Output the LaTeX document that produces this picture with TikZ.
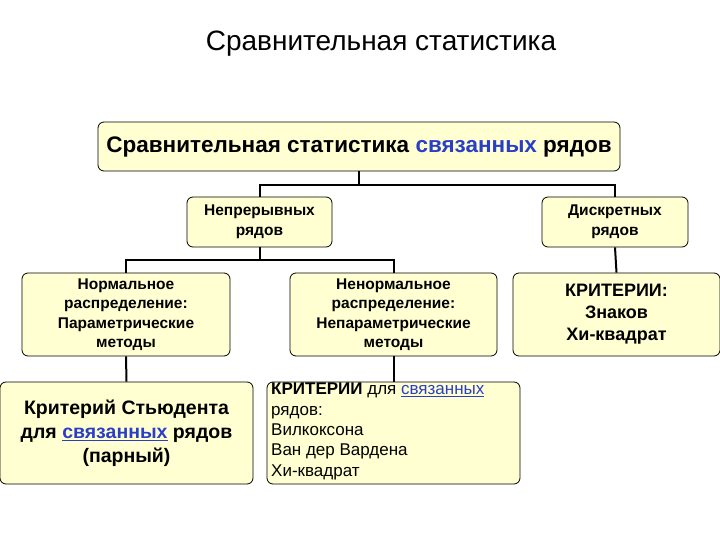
\documentclass[tikz,border=0pt]{standalone}
\usepackage{fontspec}
\setmainfont{Liberation Sans}
\definecolor{boxfill}{HTML}{FFFFD2}
\definecolor{lnk}{HTML}{2A3FC8}
\begin{document}
\begin{tikzpicture}[x=1pt,y=-1pt,
  bx/.style={draw=black,line width=0.8pt,fill=boxfill,rounded corners=6pt,align=center,inner sep=0pt},
  ln/.style={line width=2pt}]
\useasboundingbox (0,0) rectangle (720,540);
\node[font=\fontsize{28}{32}\selectfont] (title) at (381,44) {Сравнительная статистика};
\node[bx,minimum width=522pt,minimum height=49pt,font=\fontsize{22.5}{26}\bfseries\selectfont] (top) at (359,146.5) {Сравнительная статистика \textcolor{lnk}{связанных} рядов};
\node[bx,minimum width=145pt,minimum height=50pt,font=\fontsize{15.5}{20}\bfseries\selectfont] (cont) at (259.5,222) {Непрерывных\\рядов};
\node[bx,minimum width=146pt,minimum height=50pt,font=\fontsize{15.5}{20}\bfseries\selectfont] (disc) at (615,222) {Дискретных\\рядов};
\node[bx,minimum width=208pt,minimum height=83pt,font=\fontsize{15.5}{19.5}\bfseries\selectfont] (norm) at (126,314.5) {Нормальное\\распределение:\\Параметрические\\методы};
\node[bx,minimum width=207pt,minimum height=83pt,font=\fontsize{15.5}{19.5}\bfseries\selectfont] (nonn) at (393.5,314.5) {Ненормальное\\распределение:\\Непараметрические\\методы};
\node[bx,minimum width=207pt,minimum height=83pt,font=\fontsize{18}{22}\bfseries\selectfont] (crit) at (616.5,314.5) {КРИТЕРИИ:\\Знаков\\Хи-квадрат};
\node[bx,minimum width=253pt,minimum height=102pt,font=\fontsize{19.5}{24}\bfseries\selectfont] (stud) at (126.5,433) {Критерий Стьюдента\\для \textcolor{lnk}{\underline{связанных}} рядов\\(парный)};
\node[bx,minimum width=253pt,minimum height=102pt] (ncrit) at (393.5,433) {};
\node[anchor=north west,align=left,inner sep=0pt,font=\fontsize{17}{20.3}\selectfont] (ncritt) at (271,383) {\textbf{КРИТЕРИИ} для \textcolor{lnk}{\underline{связанных}}\\рядов:\\Вилкоксона\\Ван дер Вардена\\Хи-квадрат};
\draw[ln] (top.south) -- (359,185) -| (cont.north);
\draw[ln] (359,185) -| (disc.north);
\draw[ln] (cont.south) -- (259.5,260) -| (norm.north);
\draw[ln] (259.5,260) -| (nonn.north);
\draw[ln] (disc.south) -- (crit.north);
\draw[ln] (norm.south) -- (stud.north);
\draw[ln] (nonn.south) -- (ncrit.north);
\end{tikzpicture}
\end{document}
